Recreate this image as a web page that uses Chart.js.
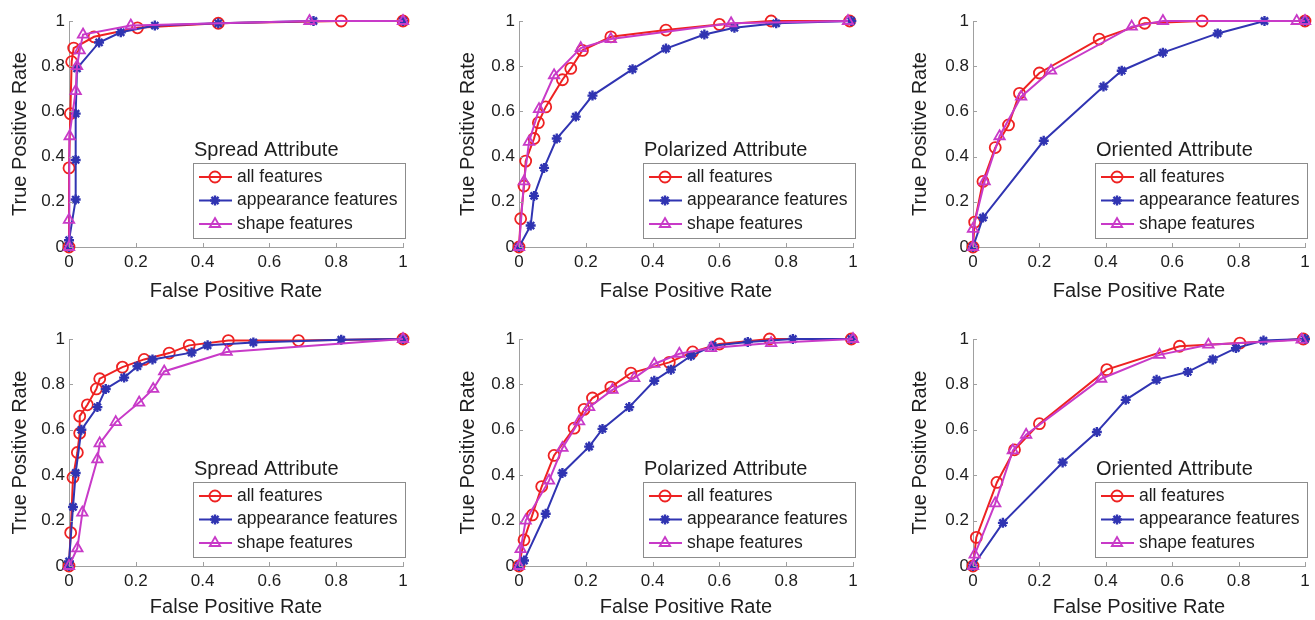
<!DOCTYPE html>
<html>
<head>
<meta charset="utf-8">
<script src="https://cdn.jsdelivr.net/npm/chart.js"></script>
<style>
  body { margin: 0; background: #fff; width: 1315px; height: 620px; overflow: hidden; position: relative; }
  canvas { position: absolute; }
</style>
</head>
<body>
<canvas id="p0"></canvas>
<canvas id="p1"></canvas>
<canvas id="p2"></canvas>
<canvas id="p3"></canvas>
<canvas id="p4"></canvas>
<canvas id="p5"></canvas>
<script>
// ---- data ----
const tickValues = [0, 0.2, 0.4, 0.6, 0.8, 1];
const seriesLabels = ['all features', 'appearance features', 'shape features'];
const panelTitles = ['Spread Attribute', 'Polarized Attribute', 'Oriented Attribute',
                     'Spread Attribute', 'Polarized Attribute', 'Oriented Attribute'];
const xAxisTitle = 'False Positive Rate';
const yAxisTitle = 'True Positive Rate';

// top row, [fpr, tpr]
const spreadTopAll = [[0,0],[0,0.35],[0.004,0.59],[0.008,0.82],[0.014,0.88],[0.075,0.93],[0.205,0.97],[0.447,0.99],[0.815,1],[1,1]];
const spreadTopApp = [[0,0],[0,0.03],[0.02,0.21],[0.02,0.385],[0.02,0.59],[0.024,0.79],[0.09,0.905],[0.155,0.95],[0.257,0.98],[0.447,0.99],[0.732,1],[1,1]];
const spreadTopShape = [[0,0],[0,0.12],[0.002,0.49],[0.02,0.69],[0.024,0.8],[0.032,0.87],[0.042,0.94],[0.185,0.98],[0.72,1],[1,1]];

const polarTopAll = [[0,0],[0.005,0.125],[0.015,0.27],[0.02,0.38],[0.045,0.48],[0.058,0.55],[0.08,0.62],[0.13,0.74],[0.155,0.79],[0.19,0.87],[0.275,0.93],[0.44,0.96],[0.6,0.985],[0.755,1],[0.99,1]];
const polarTopApp = [[0,0],[0.035,0.095],[0.045,0.226],[0.075,0.35],[0.113,0.48],[0.17,0.577],[0.22,0.67],[0.34,0.787],[0.44,0.878],[0.555,0.94],[0.645,0.97],[0.77,0.99],[0.995,1]];
const polarTopShape = [[0,0],[0.015,0.29],[0.03,0.465],[0.06,0.61],[0.105,0.76],[0.185,0.88],[0.275,0.92],[0.635,0.99],[0.985,1]];

const orientTopAll = [[0,0],[0.005,0.11],[0.03,0.29],[0.067,0.44],[0.107,0.54],[0.14,0.68],[0.2,0.77],[0.38,0.92],[0.517,0.99],[0.69,1],[1,1]];
const orientTopApp = [[0,0],[0.03,0.13],[0.213,0.47],[0.393,0.71],[0.448,0.78],[0.572,0.86],[0.737,0.945],[0.878,1],[1,1]];
const orientTopShape = [[0,0],[0,0.08],[0.035,0.29],[0.08,0.49],[0.145,0.665],[0.235,0.78],[0.478,0.975],[0.572,1],[0.975,1],[1,1]];

// bottom row
const spreadBotAll = [[0,0],[0.005,0.147],[0.012,0.39],[0.025,0.5],[0.032,0.585],[0.032,0.66],[0.055,0.71],[0.082,0.78],[0.092,0.825],[0.16,0.876],[0.225,0.91],[0.3,0.938],[0.36,0.972],[0.477,0.993],[0.687,0.993],[1,1]];
const spreadBotApp = [[0,0],[0,0.02],[0.012,0.26],[0.02,0.41],[0.037,0.6],[0.085,0.7],[0.11,0.78],[0.165,0.83],[0.205,0.88],[0.25,0.91],[0.367,0.94],[0.415,0.972],[0.552,0.985],[0.815,0.997],[1,1]];
const spreadBotShape = [[0,0],[0.025,0.078],[0.04,0.235],[0.085,0.47],[0.092,0.54],[0.14,0.634],[0.21,0.72],[0.252,0.78],[0.285,0.857],[0.472,0.943],[1,1]];

const polarBotAll = [[0,0],[0.015,0.115],[0.04,0.225],[0.068,0.35],[0.105,0.487],[0.165,0.607],[0.195,0.69],[0.22,0.74],[0.275,0.788],[0.335,0.85],[0.45,0.897],[0.52,0.943],[0.6,0.978],[0.75,1],[0.995,1]];
const polarBotApp = [[0,0],[0.015,0.024],[0.08,0.23],[0.13,0.41],[0.21,0.526],[0.25,0.604],[0.33,0.7],[0.405,0.816],[0.455,0.865],[0.515,0.926],[0.58,0.97],[0.685,0.987],[0.82,1],[0.995,1]];
const polarBotShape = [[0,0],[0.005,0.074],[0.02,0.2],[0.09,0.376],[0.13,0.52],[0.18,0.637],[0.21,0.7],[0.28,0.776],[0.345,0.828],[0.405,0.89],[0.48,0.935],[0.575,0.96],[0.755,0.982],[1,1]];

const orientBotAll = [[0,0],[0.01,0.126],[0.072,0.368],[0.125,0.512],[0.2,0.627],[0.403,0.865],[0.622,0.968],[0.804,0.982],[0.995,1]];
const orientBotApp = [[0,0],[0.09,0.19],[0.27,0.456],[0.373,0.59],[0.46,0.732],[0.553,0.82],[0.647,0.855],[0.722,0.91],[0.792,0.96],[0.875,0.993],[1,1]];
const orientBotShape = [[0,0],[0.005,0.05],[0.067,0.276],[0.12,0.509],[0.16,0.578],[0.386,0.825],[0.562,0.93],[0.709,0.975],[0.99,0.997]];

const panelSeries = [
  [spreadTopAll, spreadTopApp, spreadTopShape],
  [polarTopAll, polarTopApp, polarTopShape],
  [orientTopAll, orientTopApp, orientTopShape],
  [spreadBotAll, spreadBotApp, spreadBotShape],
  [polarBotAll, polarBotApp, polarBotShape],
  [orientBotAll, orientBotApp, orientBotShape]
];

// ---- look ----
const FONT = '"Liberation Sans", Arial, sans-serif';
Chart.defaults.font.family = FONT;
const TEXT = '#1e1e1e';
const AXIS = '#a0a0a0';

const styles = [
  { color: 'rgb(238,34,34)', pointStyle: 'circle', radius: 5.5, border: 1.8, order: 2 },
  { color: 'rgb(48,52,178)', pointStyle: 'star', radius: 5, border: 2.4, order: 1 },
  { color: 'rgb(200,58,200)', pointStyle: 'triangle', radius: 6, border: 1.8, order: 0 }
];

// panel geometry in page pixels
const colLeft = [0, 440, 880], colWidth = [440, 440, 435];
const areaLeft = [69, 79, 93], areaRight = [403, 413, 425], yTitleX = [20, 28, 40];
const rowTop = [0, 310], areaTop = [21, 29], areaBottom = [247, 256], xTitleY = [291, 297];
const PANEL_H = 310;

// small inward tick marks, MATLAB style
const innerTicks = {
  id: 'innerTicks',
  afterDatasetsDraw(chart) {
    const ctx = chart.ctx, a = chart.chartArea;
    const xs = chart.scales.x, ys = chart.scales.y;
    ctx.save();
    ctx.strokeStyle = AXIS;
    ctx.lineWidth = 1;
    ctx.beginPath();
    tickValues.forEach(v => {
      const px = Math.round(xs.getPixelForValue(v)) + 0.5;
      ctx.moveTo(px, a.bottom); ctx.lineTo(px, a.bottom - 4);
      const py = Math.round(ys.getPixelForValue(v)) + 0.5;
      ctx.moveTo(a.left, py); ctx.lineTo(a.left + 4, py);
    });
    ctx.stroke();
    ctx.restore();
  }
};

// titled legend box inside the lower right of the axes
const boxLegend = {
  id: 'boxLegend',
  afterDraw(chart, args, opts) {
    const ctx = chart.ctx, a = chart.chartArea;
    const W = 212, H = 75;
    const L = a.right + 2 - W, T = a.bottom - 9 - H;
    ctx.save();
    ctx.fillStyle = '#fff';
    ctx.fillRect(L, T, W, H);
    ctx.strokeStyle = '#8c8c8c';
    ctx.lineWidth = 1;
    ctx.strokeRect(Math.round(L) + 0.5, Math.round(T) + 0.5, W, H);
    ctx.fillStyle = TEXT;
    ctx.textBaseline = 'middle';
    ctx.font = '20px ' + FONT;
    ctx.fillText(opts.title, L + 1, T - 13);
    ctx.font = '17.5px ' + FONT;
    chart.data.datasets.forEach((ds, i) => {
      const y = T + 14 + i * 23.5;
      ctx.strokeStyle = ds.borderColor;
      ctx.lineWidth = 2;
      ctx.beginPath();
      ctx.moveTo(L + 6, y); ctx.lineTo(L + 39, y);
      ctx.stroke();
      ctx.fillStyle = 'rgba(0,0,0,0)';
      ctx.lineWidth = ds.pointBorderWidth;
      Chart.helpers.drawPoint(ctx, { pointStyle: ds.pointStyle, radius: ds.pointRadius, borderWidth: ds.pointBorderWidth, rotation: 0 }, L + 22, y);
      ctx.fillStyle = TEXT;
      ctx.fillText(ds.label, L + 44, y);
    });
    ctx.restore();
  }
};

panelSeries.forEach((series, p) => {
  const col = p % 3, row = Math.floor(p / 3);
  const w = colWidth[col];
  const canvas = document.getElementById('p' + p);
  canvas.width = w; canvas.height = PANEL_H;
  canvas.style.left = colLeft[col] + 'px';
  canvas.style.top = rowTop[row] + 'px';

  const datasets = series.map((pts, i) => ({
    label: seriesLabels[i],
    data: pts.map(([x, y]) => ({ x, y })),
    showLine: true,
    borderColor: styles[i].color,
    borderWidth: 2,
    pointStyle: styles[i].pointStyle,
    pointRadius: styles[i].radius,
    pointBorderColor: styles[i].color,
    pointBackgroundColor: 'rgba(0,0,0,0)',
    pointBorderWidth: styles[i].border,
    order: styles[i].order,
    clip: false
  }));

  new Chart(canvas, {
    type: 'scatter',
    data: { datasets },
    options: {
      responsive: false,
      animation: false,
      events: [],
      layout: { padding: { left: 0, top: areaTop[row], right: w - areaRight[col], bottom: 0 } },
      plugins: {
        legend: { display: false },
        tooltip: { enabled: false },
        boxLegend: { title: panelTitles[p] }
      },
      scales: {
        x: {
          type: 'linear', min: 0, max: 1,
          afterBuildTicks: s => { s.ticks = tickValues.map(v => ({ value: v })); },
          afterFit: s => { s.height = PANEL_H - areaBottom[row]; },
          grid: { display: false, drawTicks: false },
          border: { color: AXIS, width: 1 },
          ticks: { color: TEXT, font: { size: 17 }, padding: 5, maxRotation: 0, callback: v => String(v) },
          title: { display: true, text: xAxisTitle, color: TEXT, font: { size: 20 },
                   padding: { top: 0, bottom: PANEL_H - xTitleY[row] - 12 } }
        },
        y: {
          type: 'linear', min: 0, max: 1,
          afterBuildTicks: s => { s.ticks = tickValues.map(v => ({ value: v })); },
          afterFit: s => { s.width = areaLeft[col]; },
          grid: { display: false, drawTicks: false },
          border: { color: AXIS, width: 1 },
          ticks: { color: TEXT, font: { size: 17 }, padding: 4, callback: v => String(v) },
          title: { display: true, text: yAxisTitle, color: TEXT, font: { size: 20 },
                   padding: { top: yTitleX[col] - 12, bottom: 0 } }
        }
      }
    },
    plugins: [innerTicks, boxLegend]
  });
});
</script>
</body>
</html>
